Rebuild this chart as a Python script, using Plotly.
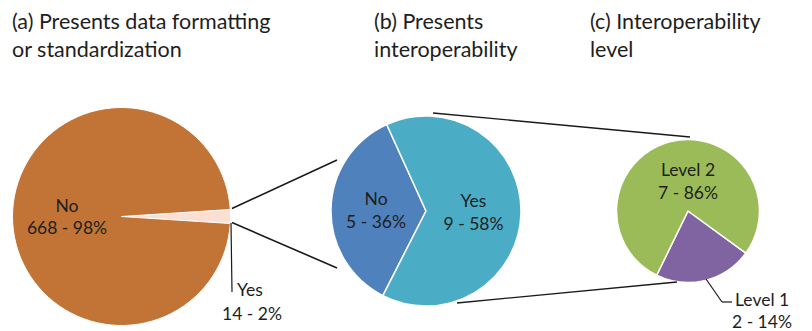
import plotly.graph_objects as go

W, H = 812, 331

# ---- data ----
a_labels = ["Yes", "No"]
a_values = [14, 668]
a_text = ["14 - 2%", "668 - 98%"]

b_labels = ["No", "Yes"]
b_values = [5, 9]
b_text = ["5 - 36%", "9 - 58%"]

c_labels = ["Level 1", "Level 2"]
c_values = [2, 7]
c_text = ["2 - 14%", "7 - 86%"]

titles = ["(a) Presents data formatting<br>or standardization",
          "(b) Presents<br>interoperability",
          "(c) Interoperability<br>level"]

# ---- layout geometry (pixels) ----
def dom(cx, cy, r):
    return dict(x=[(cx - r) / W, (cx + r) / W],
                y=[(H - cy - r) / H, (H - cy + r) / H])

FONT = "Lato"
TXT = "#1e1e1e"
LBL = 17.5

def px(x, y):
    return x / W, 1 - y / H

fig = go.Figure()

fig.add_trace(go.Pie(
    labels=a_labels, values=a_values, customdata=a_text,
    sort=False, direction="clockwise", rotation=86.3,
    domain=dom(121.5, 216.5, 109),
    marker=dict(colors=["#FADFD2", "#C27436"], line=dict(color="white", width=1)),
    texttemplate=["", "%{label}<br>%{customdata}"],
    textposition="inside", insidetextorientation="horizontal",
    textfont=dict(family=FONT, size=LBL, color=TXT),
    showlegend=False, hoverinfo="label+value"))

fig.add_trace(go.Pie(
    labels=b_labels, values=b_values, customdata=b_text,
    sort=False, direction="clockwise", rotation=207,
    domain=dom(426, 211, 95),
    marker=dict(colors=["#4F81BD", "#4BACC6"], line=dict(color="white", width=1.5)),
    texttemplate="%{label}<br>%{customdata}",
    textposition="inside", insidetextorientation="horizontal",
    textfont=dict(family=FONT, size=LBL, color=TXT),
    showlegend=False, hoverinfo="label+value"))

fig.add_trace(go.Pie(
    labels=c_labels, values=c_values, customdata=c_text,
    sort=False, direction="clockwise", rotation=126,
    domain=dom(688, 211, 71.5),
    marker=dict(colors=["#8064A2", "#9BBB59"], line=dict(color="white", width=1.5)),
    texttemplate=["", "%{label}<br>%{customdata}"],
    textposition="inside", insidetextorientation="horizontal",
    textfont=dict(family=FONT, size=LBL, color=TXT),
    showlegend=False, hoverinfo="label+value"))

shapes = []
def seg(p, q, w=1.6, col="#1a1a1a"):
    x0, y0 = px(*p)
    x1, y1 = px(*q)
    shapes.append(dict(type="line", xref="paper", yref="paper",
                       x0=x0, y0=y0, x1=x1, y1=y1,
                       line=dict(color=col, width=w)))

# connectors
seg((232, 208.5), (337, 160))
seg((232, 222.5), (337, 268))
seg((433, 113), (690, 137), w=1.3)
seg((457, 303), (677, 282), w=1.3)
# leader lines
seg((231, 223), (232, 292), w=1.2)
seg((706, 279), (722, 302), w=1.2)
seg((722, 302), (732, 302), w=1.2)

annotations = []
for t, x in zip(titles, [10, 372, 588]):
    ax, ay = px(x, 6)
    annotations.append(dict(text=t, x=ax, y=ay, xref="paper", yref="paper",
                            xanchor="left", yanchor="top", align="left",
                            showarrow=False,
                            font=dict(family=FONT, size=21.5, color=TXT)))

ax, ay = px(235, 277)
annotations.append(dict(text=a_labels[0], x=ax, y=ay, xref="paper", yref="paper",
                        xanchor="left", yanchor="top", showarrow=False,
                        font=dict(family=FONT, size=LBL, color=TXT)))
ax, ay = px(252, 301)
annotations.append(dict(text=a_text[0], x=ax, y=ay, xref="paper", yref="paper",
                        xanchor="center", yanchor="top", showarrow=False,
                        font=dict(family=FONT, size=LBL, color=TXT)))
ax, ay = px(733, 287)
annotations.append(dict(text=c_labels[0], x=ax, y=ay, xref="paper", yref="paper",
                        xanchor="left", yanchor="top", showarrow=False,
                        font=dict(family=FONT, size=LBL, color=TXT)))
ax, ay = px(762, 309)
annotations.append(dict(text=c_text[0], x=ax, y=ay, xref="paper", yref="paper",
                        xanchor="center", yanchor="top", showarrow=False,
                        font=dict(family=FONT, size=LBL, color=TXT)))

fig.update_layout(width=W, height=H, margin=dict(l=0, r=0, t=0, b=0),
                  paper_bgcolor="white", plot_bgcolor="white",
                  shapes=shapes, annotations=annotations)

fig.write_html("out.html")
